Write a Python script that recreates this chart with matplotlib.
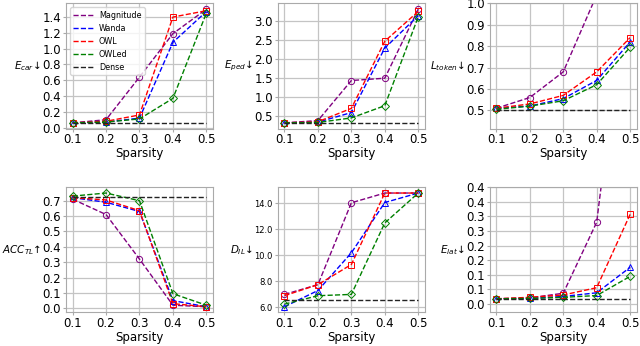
import numpy as np
import matplotlib
matplotlib.use('Agg')
import matplotlib.pyplot as plt
from matplotlib.ticker import FormatStrFormatter, MultipleLocator

sparsity = [0.1, 0.2, 0.3, 0.4, 0.5]
methods = ['Magnitude', 'Wanda', 'OWL', 'OWLed']
colors = ['purple', 'blue', 'red', 'green']
markers = ['o', '^', 's', 'D']

# E_car
ecar_mag = [0.06, 0.10, 0.64, 1.19, 1.50]
ecar_wanda = [0.06, 0.07, 0.12, 1.08, 1.47]
ecar_owl = [0.06, 0.08, 0.16, 1.40, 1.48]
ecar_owled = [0.06, 0.07, 0.11, 0.37, 1.45]
ecar_dense = 0.06

# E_ped
eped_mag = [0.32, 0.38, 1.43, 1.49, 3.30]
eped_wanda = [0.32, 0.34, 0.59, 2.28, 3.13]
eped_owl = [0.32, 0.35, 0.70, 2.46, 3.24]
eped_owled = [0.32, 0.33, 0.45, 0.77, 3.10]
eped_dense = 0.32

# L_token
ltok_mag = [0.51, 0.56, 0.68, 1.04, 1.60]
ltok_wanda = [0.51, 0.52, 0.555, 0.64, 0.82]
ltok_owl = [0.51, 0.53, 0.57, 0.68, 0.84]
ltok_owled = [0.505, 0.52, 0.545, 0.62, 0.795]
ltok_dense = 0.5

# ACC_TL
acc_mag = [0.71, 0.61, 0.32, 0.02, 0.01]
acc_wanda = [0.72, 0.69, 0.63, 0.05, 0.01]
acc_owl = [0.72, 0.705, 0.635, 0.03, 0.01]
acc_owled = [0.73, 0.75, 0.70, 0.095, 0.02]
acc_dense = 0.725

# D_IL
dil_mag = [7.0, 7.75, 14.05, 14.8, 14.8]
dil_wanda = [6.05, 7.3, 10.2, 14.07, 14.8]
dil_owl = [6.9, 7.75, 9.3, 14.8, 14.8]
dil_owled = [6.25, 6.9, 7.0, 12.5, 14.8]
dil_dense = 6.55

# E_lat
elat_mag = [0.017, 0.02, 0.036, 0.28, 1.2]
elat_wanda = [0.017, 0.018, 0.025, 0.0375, 0.125]
elat_owl = [0.017, 0.022, 0.03, 0.055, 0.307]
elat_owled = [0.017, 0.018, 0.022, 0.028, 0.094]
elat_dense = 0.017
elat_ticklabels = ['0.0', '0.1', '0.1', '0.2', '0.2', '0.3', '0.3', '0.4', '0.4']

panels = [
    (r'$E_{car}$↓', [ecar_mag, ecar_wanda, ecar_owl, ecar_owled], ecar_dense, 0.2),
    (r'$E_{ped}$↓', [eped_mag, eped_wanda, eped_owl, eped_owled], eped_dense, 0.5),
    (r'$L_{token}$↓', [ltok_mag, ltok_wanda, ltok_owl, ltok_owled], ltok_dense, 0.1),
    (r'$ACC_{TL}$↑', [acc_mag, acc_wanda, acc_owl, acc_owled], acc_dense, 0.1),
    (r'$D_{IL}$↓', [dil_mag, dil_wanda, dil_owl, dil_owled], dil_dense, 2.0),
    (r'$E_{lat}$↓', [elat_mag, elat_wanda, elat_owl, elat_owled], elat_dense, 0.05),
]

fig, axes = plt.subplots(2, 3, figsize=(6.4, 3.46), dpi=100)
fig.subplots_adjust(left=0.103, right=0.995, top=0.99, bottom=0.097, wspace=0.44, hspace=0.47)

for k, (ax, (label, series, dense, step)) in enumerate(zip(axes.flat, panels)):
    for name, ys, c, m in zip(methods, series, colors, markers):
        ax.plot(sparsity, ys, '--', color=c, lw=1.0, label=name)
        ax.plot(sparsity, ys, ls='none', marker=m, ms=4.5, mfc='none', mec=c, mew=0.7)
    ax.plot([sparsity[0], sparsity[-1]], [dense, dense], '--', color='#222222', lw=1.0, label='Dense')

    ax.set_xticks(sparsity)
    ax.set_xlabel('Sparsity', fontsize=8.5, labelpad=0.5)
    ax.set_ylabel(label, fontsize=7.5, rotation=0, ha='right', va='center', labelpad=1)
    ax.tick_params(length=2.5, width=0.8, color='#aaaaaa', labelsize=8.5, pad=1)
    ax.yaxis.set_major_locator(MultipleLocator(step))
    ax.yaxis.set_major_formatter(FormatStrFormatter('%.1f'))
    ax.grid(True, color='#c4c4c4', lw=0.9)
    ax.set_axisbelow(True)
    for sp in ax.spines.values():
        sp.set_color('#aaaaaa')

    if k == 0:
        ax.legend(loc='upper left', fontsize=5.8, handlelength=2.4, borderpad=0.4,
                  labelspacing=0.5, framealpha=0.8, edgecolor='#cccccc')
    if k == 2:
        ax.set_ylim(0.415, 1.0)
    if k == 4:
        ax.tick_params(axis='y', labelsize=6)
    if k == 5:
        ax.set_ylim(-0.03, 0.4)
        ax.set_yticks(np.arange(9) * 0.05)
        ax.set_yticklabels(elat_ticklabels)

fig.savefig('out.png', dpi=100)
